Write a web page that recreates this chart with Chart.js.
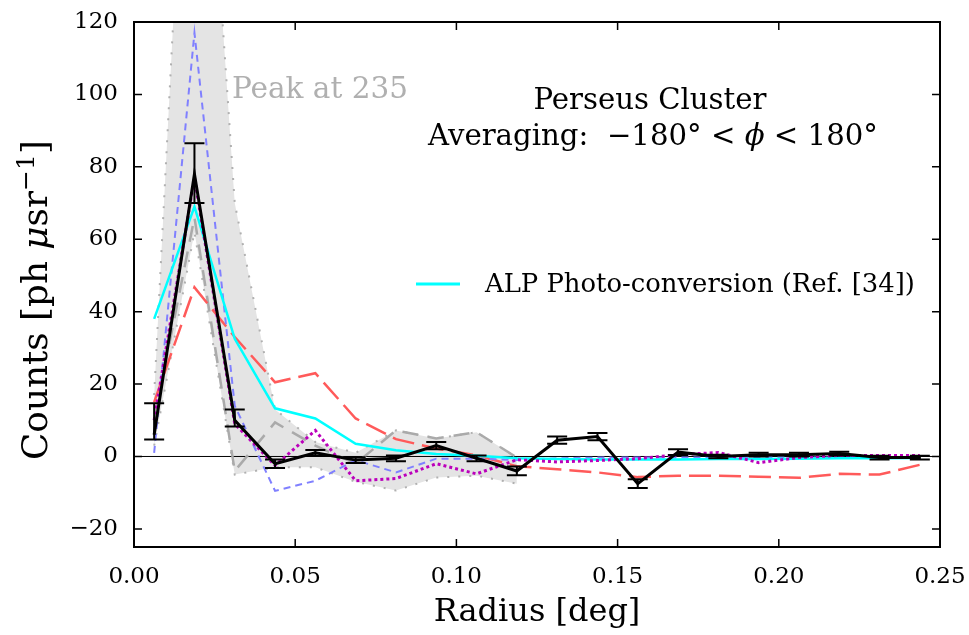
<!DOCTYPE html>
<html lang="en">
<head>
<meta charset="UTF-8">
<title>Perseus Cluster radial profile</title>
<script src="https://cdn.jsdelivr.net/npm/chart.js"></script>
<style>
    body { margin: 0; padding: 0; background: #fff; }
</style>
</head>
<body>
<canvas id="profileChart" width="969" height="635"></canvas>
<script>
// bin centres (deg)
const radius = [0.00625, 0.01875, 0.03125, 0.04375, 0.05625, 0.06875, 0.08125, 0.09375, 0.10625, 0.11875,
                0.13125, 0.14375, 0.15625, 0.16875, 0.18125, 0.19375, 0.20625, 0.21875, 0.23125, 0.24375];

// measured counts with asymmetric errors
const counts  = [6, 78, 10, -2, 1, -1, -0.5, 3, -0.5, -4, 4.5, 5.5, -7.5, 1.2, 0, 0.5, 0.5, 0.8, -0.3, -0.3];
const errHigh = [8.7, 8.5, 3, 1.2, 0.8, 0.8, 0.8, 1, 0.8, 1.2, 1, 1, 1.2, 0.8, 0.5, 0.5, 0.5, 0.5, 0.5, 0.5];
const errLow  = [1.3, 8, 1.7, 1.2, 0.8, 0.8, 0.8, 1, 0.8, 1.2, 1, 1, 1.2, 0.8, 0.5, 0.5, 0.5, 0.5, 0.5, 0.5];

// model curves
const alpConversion = [38, 69, 32.5, 13.3, 10.5, 3.5, 1.7, 0.7, 0.2, -0.5, -0.7, -0.8, -0.8, -0.8, -0.7, -0.7, -0.6, -0.5, -0.5, -0.4];
const redCurve      = [15, 46.7, 33, 20.5, 23, 10.5, 4.8, 2.2, 0.3, -2.7, -3.5, -4.4, -5.7, -5.3, -5.3, -5.6, -5.9, -4.8, -5, -2.3];
const blueCurve     = [1, 117, 14, -9.5, -6.7, -1, -4.4, -0.6, -0.6, -1, -0.5, -0.3, -0.3, -0.3, -0.3, -0.3, -0.3, -0.3, -0.3, -0.3];
const purpleCurve   = [10, 77, 9, -2.5, 7.2, -6.7, -6.1, -2, -4.8, -0.9, -1.5, -1.1, -0.6, 0.5, 1.1, -1.7, -0.3, 0.3, 0.3, 0.3];

// grey band (first ten bins)
const bandRadius = radius.slice(0, 10);
const bandUpper  = [17, 235, 70, 13, 4, 1, 7.2, 5, 6.7, -0.3];
const bandLower  = [3, 62, -5, -3, -3, -7, -9.4, -5.8, -5.3, -7.5];
const bandMid    = [10, 66, -4, 9.4, 3, -2, 7.2, 5, 6.7, -0.3];

const zeroLine = [0, 0];
const zeroX = [0, 0.25];

const xTicks = [0, 0.05, 0.10, 0.15, 0.20, 0.25];
const yTicks = [-20, 0, 20, 40, 60, 80, 100, 120];

const SERIF = "'DejaVu Serif', serif";

function pts(xs, ys) {
    return xs.map((x, i) => ({ x: x, y: ys[i] }));
}

function line(data, color, width, dash, order, extra) {
    return Object.assign({
        data: data,
        borderColor: color,
        borderWidth: width,
        borderDash: dash,
        pointRadius: 0,
        fill: false,
        tension: 0,
        order: order
    }, extra || {});
}

const errorBars = {
    id: 'errorBars',
    afterDatasetsDraw(chart) {
        const ctx = chart.ctx, xs = chart.scales.x, ys = chart.scales.y;
        ctx.save();
        ctx.strokeStyle = '#000';
        ctx.lineWidth = 2;
        radius.forEach((r, i) => {
            const px = xs.getPixelForValue(r);
            const top = ys.getPixelForValue(counts[i] + errHigh[i]);
            const bot = ys.getPixelForValue(counts[i] - errLow[i]);
            ctx.beginPath();
            ctx.moveTo(px, top); ctx.lineTo(px, bot);
            ctx.moveTo(px - 10, top); ctx.lineTo(px + 10, top);
            ctx.moveTo(px - 10, bot); ctx.lineTo(px + 10, bot);
            ctx.stroke();
        });
        ctx.restore();
    }
};

const frame = {
    id: 'frame',
    afterDatasetsDraw(chart) {
        const ctx = chart.ctx, a = chart.chartArea;
        const xs = chart.scales.x, ys = chart.scales.y;
        ctx.save();
        ctx.strokeStyle = '#000';
        ctx.lineWidth = 2;
        ctx.strokeRect(a.left, a.top, a.right - a.left, a.bottom - a.top);
        ctx.lineWidth = 1.5;
        ctx.beginPath();
        xTicks.forEach(v => {
            const p = xs.getPixelForValue(v);
            ctx.moveTo(p, a.bottom); ctx.lineTo(p, a.bottom - 8);
            ctx.moveTo(p, a.top); ctx.lineTo(p, a.top + 8);
        });
        yTicks.forEach(v => {
            const p = ys.getPixelForValue(v);
            ctx.moveTo(a.left, p); ctx.lineTo(a.left + 8, p);
            ctx.moveTo(a.right, p); ctx.lineTo(a.right - 8, p);
        });
        ctx.stroke();
        ctx.restore();
    }
};

function fitSize(ctx, text, width, style) {
    ctx.font = (style || '') + ' 100px ' + SERIF;
    return 100 * width / ctx.measureText(text).width;
}

// draws a run of [text, style, scale, rise] pieces fitted to a given width
function drawRun(ctx, parts, x, y, width) {
    let total = 0;
    parts.forEach(p => {
        ctx.font = p[1] + ' ' + (100 * p[2]) + 'px ' + SERIF;
        total += ctx.measureText(p[0]).width;
    });
    const k = width / total;
    parts.forEach(p => {
        ctx.font = p[1] + ' ' + (100 * p[2] * k) + 'px ' + SERIF;
        ctx.fillText(p[0], x, y - p[3] * 100 * k);
        x += ctx.measureText(p[0]).width;
    });
}

const labels = {
    id: 'labels',
    afterDraw(chart) {
        const ctx = chart.ctx;
        ctx.save();
        ctx.textBaseline = 'middle';

        // peak annotation
        let s = fitSize(ctx, 'Peak at 235', 176);
        ctx.font = s + 'px ' + SERIF;
        ctx.fillStyle = '#b0b0b0';
        ctx.textAlign = 'left';
        ctx.fillText('Peak at 235', 232, 90);

        // title block
        ctx.fillStyle = '#000';
        s = fitSize(ctx, 'Perseus Cluster', 233);
        ctx.font = s + 'px ' + SERIF;
        ctx.textAlign = 'center';
        ctx.fillText('Perseus Cluster', 650, 101);

        ctx.textAlign = 'left';
        drawRun(ctx, [
            ['Averaging:  \u2212180\u00b0 < ', '', 1, 0],
            ['\u03d5', 'italic', 1, 0],
            [' < 180\u00b0', '', 1, 0]
        ], 428, 137, 450);

        // y axis title, rotated
        ctx.save();
        ctx.translate(38, 300);
        ctx.rotate(-Math.PI / 2);
        drawRun(ctx, [
            ['Counts [ph ', '', 1, 0],
            ['\u03bc', 'italic', 1, 0],
            ['sr', '', 1, 0],
            ['\u22121', '', 0.7, 0.3],
            [']', '', 1, 0]
        ], -160, 0, 320);
        ctx.restore();

        // legend entry
        ctx.strokeStyle = '#00ffff';
        ctx.lineWidth = 3;
        ctx.beginPath();
        ctx.moveTo(416, 284); ctx.lineTo(460, 284);
        ctx.stroke();
        const leg = 'ALP Photo-conversion (Ref. [34])';
        s = fitSize(ctx, leg, 430);
        ctx.font = s + 'px ' + SERIF;
        ctx.fillText(leg, 485, 285);
        ctx.restore();
    }
};

new Chart(document.getElementById('profileChart'), {
    type: 'line',
    data: {
        datasets: [
            line(pts(radius, counts), '#000000', 3, [], 0),
            line(pts(radius, purpleCurve), '#bb00bb', 3, [3, 3], 1),
            line(pts(radius, alpConversion), '#00ffff', 2.5, [], 2),
            line(pts(radius, blueCurve), '#8080ff', 2, [7, 5], 3),
            line(pts(radius, redCurve), '#ff5a5a', 2.5, [22, 8], 4),
            line(pts(bandRadius, bandMid), '#aaaaaa', 2.5, [16, 10], 5),
            line(pts(zeroX, zeroLine), '#000000', 1, [], 6),
            line(pts(bandRadius, bandUpper), '#b0b0b0', 2, [2, 9], 7,
                 { fill: { target: 8 }, backgroundColor: '#e4e4e4' }),
            line(pts(bandRadius, bandLower), '#b0b0b0', 2, [2, 9], 8)
        ]
    },
    options: {
        responsive: false,
        animation: false,
        layout: { padding: { left: 0, right: 29, top: 22, bottom: 0 } },
        plugins: {
            legend: { display: false },
            tooltip: { enabled: false },
            filler: { drawTime: 'beforeDatasetsDraw' }
        },
        scales: {
            x: {
                type: 'linear',
                min: 0,
                max: 0.25,
                grid: { display: false, drawTicks: false },
                border: { display: false },
                afterBuildTicks: scale => { scale.ticks = xTicks.map(v => ({ value: v })); },
                afterFit: scale => {
                    scale.height = 88;
                    scale.paddingLeft = 0;
                    scale.paddingRight = 0;
                },
                ticks: {
                    padding: 16,
                    color: '#000',
                    font: { family: SERIF, size: 23 },
                    callback: v => v.toFixed(2)
                },
                title: {
                    display: true,
                    text: 'Radius [deg]',
                    color: '#000',
                    font: { family: SERIF, size: 32 },
                    padding: { top: 0, bottom: 3 }
                }
            },
            y: {
                type: 'linear',
                min: -25,
                max: 120,
                grid: { display: false, drawTicks: false },
                border: { display: false },
                afterBuildTicks: scale => { scale.ticks = yTicks.map(v => ({ value: v })); },
                afterFit: scale => {
                    scale.width = 134;
                    scale.paddingTop = 0;
                    scale.paddingBottom = 0;
                },
                ticks: {
                    padding: 16,
                    color: '#000',
                    font: { family: SERIF, size: 23 },
                    callback: v => (v < 0 ? '\u2212' + Math.abs(v) : String(v))
                }
            }
        }
    },
    plugins: [errorBars, frame, labels]
});
</script>
</body>
</html>
